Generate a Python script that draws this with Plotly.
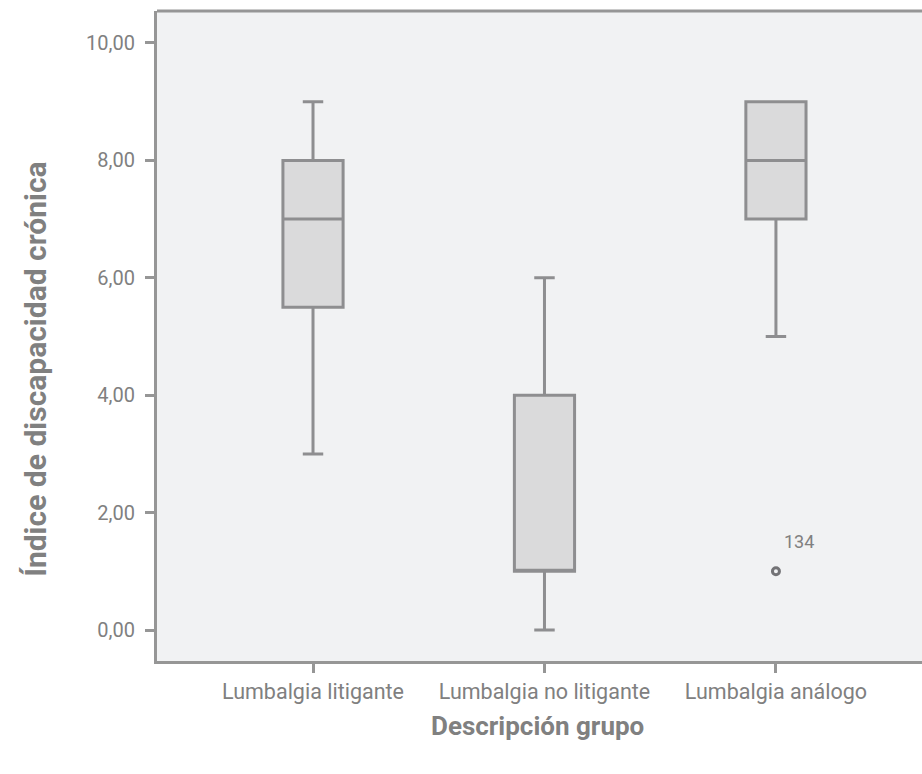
import plotly.graph_objects as go

# Groups and five-number summaries of the chronic disability index
groups = ["Lumbalgia litigante", "Lumbalgia no litigante", "Lumbalgia análogo"]
lower_whisker = [3, 0, 5]
q1 = [5.5, 1, 7]
median = [7, 1, 8]
q3 = [8, 4, 9]
upper_whisker = [9, 6, 9]

# Outlier case
outlier_group = ["Lumbalgia análogo"]
outlier_value = [1]
outlier_label = ["134"]

y_ticks = [0, 2, 4, 6, 8, 10]
y_ticktext = ["0,00", "2,00", "4,00", "6,00", "8,00", "10,00"]

line_grey = "rgb(150,150,150)"
text_grey = "rgb(128,128,128)"
font_family = "Roboto, 'Open Sans', sans-serif"

fig = go.Figure()

fig.add_trace(go.Box(
    x=groups,
    q1=q1,
    median=median,
    q3=q3,
    lowerfence=lower_whisker,
    upperfence=upper_whisker,
    width=0.26,
    whiskerwidth=0.34,
    fillcolor="rgb(218,218,219)",
    line=dict(color="rgb(142,142,144)", width=3),
    boxpoints=False,
    showlegend=False,
    hoverinfo="skip",
))

fig.add_trace(go.Scatter(
    x=outlier_group,
    y=outlier_value,
    mode="markers",
    marker=dict(symbol="circle-open", size=7, color="rgb(115,115,118)", line=dict(width=3)),
    showlegend=False,
    hoverinfo="skip",
))

fig.update_layout(
    width=922,
    height=774,
    margin=dict(l=157, r=0, t=11, b=113),
    paper_bgcolor="white",
    plot_bgcolor="rgb(241,242,243)",
    font=dict(family=font_family, size=20, color=text_grey),
    xaxis=dict(
        range=[-0.674, 2.631],
        showgrid=False,
        zeroline=False,
        showline=True,
        linecolor=line_grey,
        linewidth=3,
        ticks="outside",
        ticklen=9,
        tickwidth=3,
        tickcolor=line_grey,
        tickfont=dict(size=21.5, color=text_grey),
    ),
    yaxis=dict(
        range=[-0.528, 10.545],
        tickvals=y_ticks,
        ticktext=y_ticktext,
        showgrid=False,
        zeroline=False,
        showline=True,
        linecolor=line_grey,
        linewidth=3,
        ticks="outside",
        ticklen=9,
        tickwidth=3,
        tickcolor=line_grey,
        ticklabelstandoff=6,
        tickfont=dict(size=20, color=text_grey),
    ),
    shapes=[
        dict(type="line", xref="paper", yref="paper", x0=0, x1=1, y0=1, y1=1,
             line=dict(color=line_grey, width=3)),
    ],
    annotations=[
        dict(text=outlier_label[0], x=outlier_group[0], y=outlier_value[0],
             xref="x", yref="y", xanchor="left", yanchor="middle",
             xshift=6, yshift=30, showarrow=False,
             font=dict(size=18, color=text_grey)),
        dict(text="<b>Descripción grupo</b>", xref="paper", yref="paper",
             x=0.497, y=-0.1, yanchor="middle", xanchor="center", showarrow=False,
             font=dict(size=26, color=text_grey)),
        dict(text="<b>Índice de discapacidad crónica</b>", xref="paper", yref="paper",
             x=-0.159, y=0.45, textangle=-90, xanchor="center", yanchor="middle",
             showarrow=False, font=dict(size=30, color=text_grey)),
    ],
)

fig.write_html("out.html")
